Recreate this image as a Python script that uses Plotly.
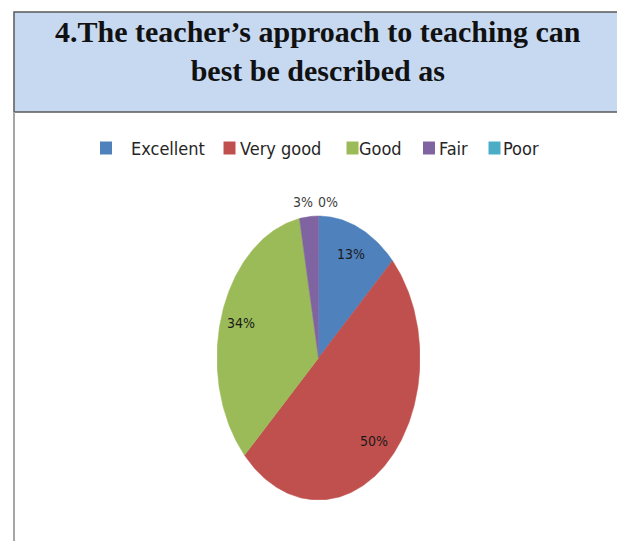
import numpy as np
import plotly.graph_objects as go

categories = ["Excellent", "Very good", "Good", "Fair", "Poor"]
values = [13, 50, 34, 3, 0]
colors = ["#4F81BD", "#C0504D", "#9BBB59", "#8064A2", "#4BACC6"]
title_lines = ["4.The teacher’s approach to teaching can", "best be described as"]

# page has an 8px body margin; work in window pixels and convert
OFF = 8
W, H = 625 - OFF, 541 - OFF


def px(x):
    return (x - OFF) / W


def py(y):
    return 1 - (y - OFF) / H


fig = go.Figure()

narrow = "DejaVu Sans Condensed, Liberation Sans Narrow, Arial Narrow, sans-serif"
total = float(sum(values))
start = 0.0
for cat, val, col in zip(categories, values, colors):
    frac = val / total
    a0, a1 = start * 2 * np.pi, (start + frac) * 2 * np.pi
    if val > 0:
        t = np.linspace(a0, a1, max(int(frac * 400), 4))
        xs = np.concatenate([[0], np.sin(t), [0]])
        ys = np.concatenate([[0], np.cos(t), [0]])
        fig.add_trace(go.Scatter(x=xs, y=ys, fill="toself", mode="lines", name=cat,
                                 fillcolor=col, line=dict(color=col, width=0.5),
                                 hoverinfo="skip", showlegend=False))
    mid = (a0 + a1) / 2
    if frac >= 0.05:
        r, shift, fcol = 0.8, 0, "#1a1a1a"
    else:
        r, fcol = 1.1, "#404040"
        shift = 9 if val == 0 else -5
    fig.add_annotation(x=r * np.sin(mid), y=r * np.cos(mid), xref="x", yref="y",
                       text=f"{val}%", showarrow=False, xshift=shift,
                       font=dict(family=narrow, size=14, color=fcol))
    start += frac

# legend (keys + labels), laid out horizontally like the original
key_x = [106, 229.5, 352.5, 429, 494.5]
text_x = [129, 238, 357, 437, 501]
LEG_Y = 148
for cat, col, kx, tx in zip(categories, colors, key_x, text_x):
    fig.add_shape(type="rect", xref="paper", yref="paper",
                  x0=px(kx - 6), x1=px(kx + 6), y0=py(LEG_Y + 6.5), y1=py(LEG_Y - 6.5),
                  fillcolor=col, line=dict(width=0))
    fig.add_annotation(x=px(tx), y=py(LEG_Y), xref="paper", yref="paper", text=cat,
                       showarrow=False, xanchor="left", yanchor="middle",
                       font=dict(family=narrow, size=18, color="#262626"))

# frame and title box
for lx in (14, 622):
    fig.add_shape(type="line", xref="paper", yref="paper", x0=px(lx), x1=px(lx),
                  y0=0, y1=py(112), line=dict(color="#a6a6a6", width=2))
fig.add_shape(type="rect", xref="paper", yref="paper", x0=px(14), x1=px(622),
              y0=py(112), y1=py(12), fillcolor="#C6D9F1",
              line=dict(color="#595959", width=1.5), layer="below")
fig.add_annotation(x=px(318), y=py(51), xref="paper", yref="paper",
                   text="<br>".join(f"<b>{l}</b>" for l in title_lines),
                   showarrow=False, yanchor="middle", align="center",
                   font=dict(family="Liberation Serif, Times New Roman, serif",
                             size=30, color="#111111"))

RX0, RX1 = 217, 420        # ellipse horizontal extent (px)
RY_TOP, RY_BOT = 216, 500  # ellipse vertical extent (px)
ytop = 1.35
ry = (RY_BOT - RY_TOP) / 2
fig.update_layout(
    width=W, height=H, autosize=False,
    margin=dict(l=0, r=0, t=0, b=0),
    paper_bgcolor="white", plot_bgcolor="rgba(0,0,0,0)",
    xaxis=dict(range=[-1, 1], domain=[px(RX0), px(RX1)], visible=False, fixedrange=True),
    yaxis=dict(range=[-1, ytop], domain=[py(RY_BOT), py(RY_TOP - (ytop - 1) * ry)],
               visible=False, fixedrange=True),
    showlegend=False,
)
fig.write_html("out.html")
